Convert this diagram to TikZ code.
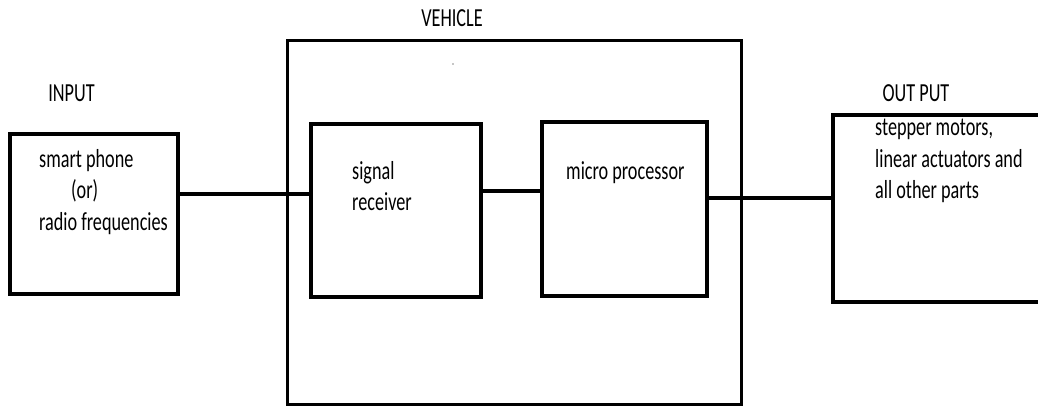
\documentclass[tikz,border=0pt]{standalone}
\usepackage{fontspec}
\setmainfont{Carlito}[FakeStretch=0.7]
\usetikzlibrary{positioning}
\tikzset{
  block/.style={draw=black, line width=3.5pt, rectangle, inner sep=0pt},
  wire/.style={draw=black, line width=3.5pt},
  caption/.style={inner sep=0pt, anchor=base},
  blocktext/.style={inner sep=0pt, anchor=north west, align=left}
}

\begin{document}
\begin{tikzpicture}[x=1pt, y=1pt, font=\fontsize{26}{31.5}\selectfont]
    \useasboundingbox (0,0) rectangle (1038,406);
    % blocks
    \node[block, minimum width=168pt, minimum height=160pt] (input) at (94,192) {};
    \node[block, line width=3pt, minimum width=454pt, minimum height=363.5pt] (vehicle) at (514,183.25) {};
    \node[block, minimum width=170pt, minimum height=173pt] (recv) at (396,195.5) {};
    \node[block, minimum width=165pt, minimum height=174pt] (micro) at (624.5,197) {};
    \node[block, minimum width=212pt, minimum height=187pt] (output) at (939,197.5) {};
    % headings
    \node[caption] (vehiclelbl) at (452,379) {VEHICLE};
    \node[caption] (inputlbl) at (71.5,304) {INPUT};
    \node[caption] (outputlbl) at (916,304) {OUT PUT};
    \fill[black!45] (453,342) circle (0.8);
    % texts in the blocks
    \node[blocktext] (inputtxt) at (39,257) {smart phone\\\hspace*{32pt}(or)\\radio frequencies};
    \node[blocktext] (recvtxt) at (352,245) {signal\\receiver};
    \node[blocktext] (microtxt) at (566,245) {micro processor};
    \node[blocktext] (outputtxt) at (875,287) {stepper motors,\\linear actuators and\\all other parts};
    % connectors
    \coordinate (inwire) at ([yshift=20pt]input.east);
    \coordinate (midwire) at ([yshift=19.5pt]recv.east);
    \coordinate (outwire) at ([yshift=11pt]micro.east);
    \draw[wire] (inwire) -- ([xshift=2pt]inwire -| recv.west);
    \draw[wire] (midwire) -- (midwire -| micro.west);
    \draw[wire] (outwire) -- (outwire -| output.west);
  \end{tikzpicture}
\end{document}
